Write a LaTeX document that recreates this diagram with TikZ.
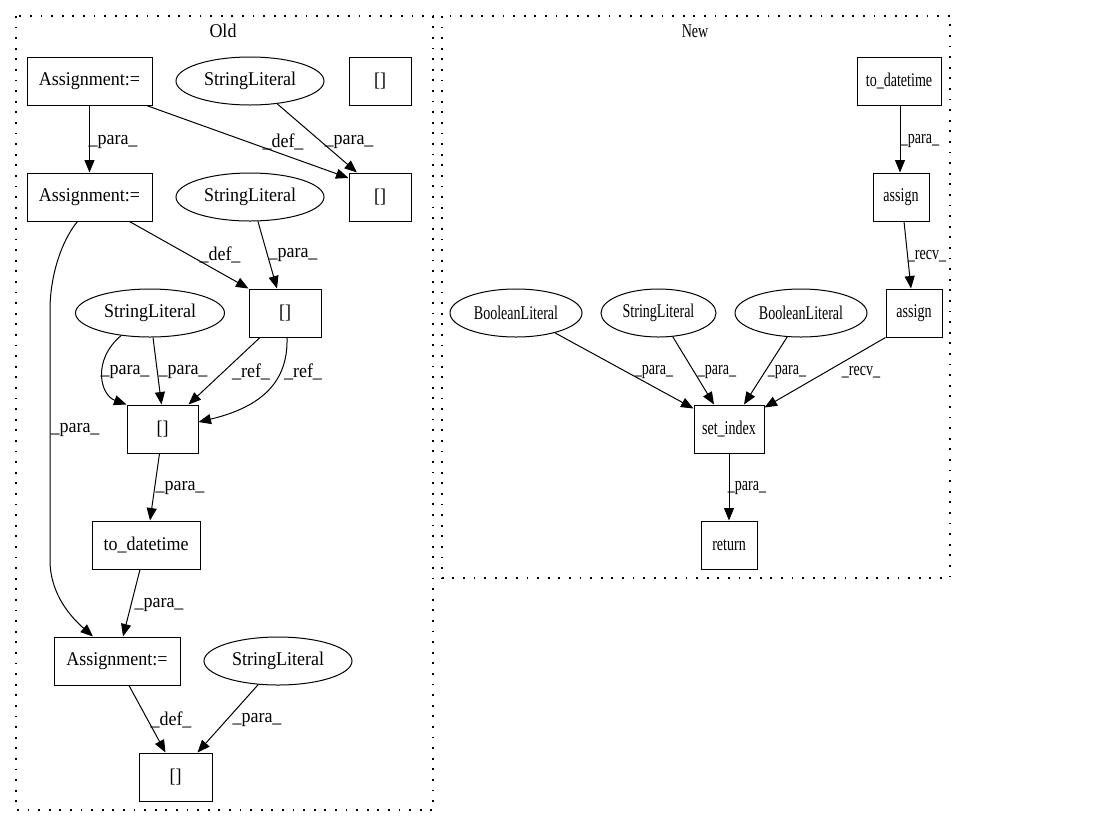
\documentclass[tikz,border=0pt]{standalone}
\usepackage{fontspec}
\setmainfont{Liberation Serif}
\usepackage{graphicx}
\usetikzlibrary{shapes.geometric,arrows.meta,calc}
\newcommand{\ox}[1]{\scalebox{1}[1.08]{#1}}
\newcommand{\nx}[1]{\scalebox{0.78}[1.08]{#1}}
\begin{document}
\begin{tikzpicture}[x=1pt,y=-1pt,
  every node/.style={font=\fontsize{18}{20}\selectfont},
  box/.style={draw, rectangle, line width=1pt, minimum height=48pt, inner sep=0pt},
  ell/.style={draw, ellipse, line width=1pt, minimum height=48pt, inner sep=0pt},
  conn/.style={-{Triangle[length=12.5pt,width=10pt]}, line width=1pt},
  lbl/.style={inner sep=0pt},
  cluster/.style={draw, line width=1.3pt, dash pattern=on 1.8pt off 8.8pt}]
\useasboundingbox (0,0) rectangle (1115,828);
% clusters
\draw[cluster] (16,16) rectangle (433,810);
\draw[cluster] (442,16) rectangle (950,578);
\node (tOld) at (223,31) {\ox{Old}};
\node (tNew) at (695,31) {\nx{New}};
% Old nodes
\node[box, minimum width=125pt] (A1) at (89.5,81) {\ox{Assignment:=}};
\node[ell, minimum width=148pt] (SL1) at (250,81) {\ox{StringLiteral}};
\node[box, minimum width=62pt] (B0) at (380,81) {\ox{[]}};
\node[box, minimum width=125pt] (A2) at (89.5,197) {\ox{Assignment:=}};
\node[ell, minimum width=148pt] (SL2) at (250,197) {\ox{StringLiteral}};
\node[box, minimum width=62pt] (B1) at (380,197) {\ox{[]}};
\node[box, minimum width=72pt] (B2) at (285,313) {\ox{[]}};
\node[ell, minimum width=149pt] (SL3) at (150,313) {\ox{StringLiteral}};
\node[box, minimum width=71pt] (B3) at (162.5,429) {\ox{[]}};
\node[box, minimum width=108pt] (TD) at (146,545) {\ox{to\_datetime}};
\node[box, minimum width=126pt] (A3) at (117,661) {\ox{Assignment:=}};
\node[ell, minimum width=148pt] (SL4) at (278,661) {\ox{StringLiteral}};
\node[box, minimum width=73pt] (B4) at (175.5,777) {\ox{[]}};
% New nodes
\node[box, minimum width=84pt] (TD2) at (899,81) {\nx{to\_datetime}};
\node[box, minimum width=56pt] (AS1) at (901,197) {\nx{assign}};
\node[box, minimum width=56pt] (AS2) at (914,313) {\nx{assign}};
\node[ell, minimum width=132pt] (BL1) at (516,313) {\nx{BooleanLiteral}};
\node[ell, minimum width=115pt] (SL5) at (658.5,313) {\nx{StringLiteral}};
\node[ell, minimum width=132pt] (BL2) at (801,313) {\nx{BooleanLiteral}};
\node[box, minimum width=70pt] (SI) at (729,429) {\nx{set\_index}};
\node[box, minimum width=56pt] (RET) at (729,545) {\nx{return}};
% Old edges
\draw[conn] (A1.south) -- (A2.north) node[lbl, at={(113,142)}] {\ox{\_para\_}};
\draw[conn] ([xshift=57pt]A1.south) -- ([yshift=19pt]B1.west) node[lbl, at={(283,142)}] {\ox{\_def\_}};
\draw[conn] (SL1.-40) -- ([xshift=-23pt]B1.north) node[lbl, at={(349,142)}] {\ox{\_para\_}};
\draw[conn] ([xshift=40pt]A2.south) -- (B2.north west) node[lbl, at={(220,255)}] {\ox{\_def\_}};
\draw[conn] (SL2.-72) -- ([xshift=-8pt]B2.north) node[lbl, at={(293,255)}] {\ox{\_para\_}};
\draw[conn] ([xshift=-12pt]A2.south) .. controls (62,240) and (50,275) .. (50,310) -- (50,560) .. controls (50,595) and (72,618) .. ([xshift=-24pt]A3.north) node[lbl, at={(75,430)}] {\ox{\_para\_}};
\draw[conn] (SL3.-142) .. controls (92,360) and (100,395) .. (B3.north west) node[lbl, at={(125,372)}] {\ox{\_para\_}};
\draw[conn] ([xshift=3pt]SL3.south) -- ([xshift=-1pt]B3.north) node[lbl, at={(183,372)}] {\ox{\_para\_}};
\draw[conn] ([xshift=-25pt]B2.south) -- ([xshift=26pt]B3.north) node[lbl, at={(251,372)}] {\ox{\_ref\_}};
\draw[conn] ([xshift=2pt]B2.south) .. controls (288,375) and (270,405) .. ([yshift=7pt]B3.east) node[lbl, at={(303,372)}] {\ox{\_ref\_}};
\draw[conn] ([xshift=-3pt]B3.south) -- ([xshift=4pt]TD.north) node[lbl, at={(180,488)}] {\ox{\_para\_}};
\draw[conn] ([xshift=-6pt]TD.south) -- ([xshift=6pt]A3.north) node[lbl, at={(159,605)}] {\ox{\_para\_}};
\draw[conn] ([xshift=12pt]A3.south) -- ([xshift=-10pt]B4.north) node[lbl, at={(171,720)}] {\ox{\_def\_}};
\draw[conn] (SL4.-130) -- ([xshift=22pt]B4.north) node[lbl, at={(257,720)}] {\ox{\_para\_}};
% New edges
\draw[conn] ([xshift=1pt]TD2.south) -- ([xshift=-1pt]AS1.north) node[lbl, at={(920,141)}] {\nx{\_para\_}};
\draw[conn] ([xshift=3pt]AS1.south) -- ([xshift=-3pt]AS2.north) node[lbl, at={(927,256)}] {\nx{\_recv\_}};
\draw[conn] (BL1.-27) -- ([yshift=-4pt]SI.north west) node[lbl, at={(654,372)}] {\nx{\_para\_}};
\draw[conn] (SL5.-59) -- ([xshift=-15pt]SI.north) node[lbl, at={(717,372)}] {\nx{\_para\_}};
\draw[conn] (BL2.-120) -- ([xshift=15pt]SI.north) node[lbl, at={(787,372)}] {\nx{\_para\_}};
\draw[conn] (AS2.south west) -- ([yshift=-3pt]SI.north east) node[lbl, at={(861,372)}] {\nx{\_recv\_}};
\draw[conn] (SI.south) -- (RET.north) node[lbl, at={(747,488)}] {\nx{\_para\_}};
\end{tikzpicture}
\end{document}
